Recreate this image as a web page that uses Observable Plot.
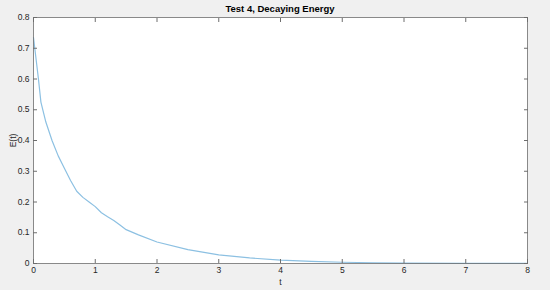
<!DOCTYPE html>
<html>
<head>
<meta charset="utf-8">
<script src="https://cdn.jsdelivr.net/npm/d3@7"></script>
<script src="https://cdn.jsdelivr.net/npm/@observablehq/plot@0.6"></script>
<style>
  html, body { margin: 0; padding: 0; background: #f0f0f0; }
  #chart { width: 550px; height: 290px; position: relative; }
  #title { position: absolute; top: 3px; left: 33px; width: 494px; text-align: center;
           font: bold 9.5px "Liberation Sans", Arial, sans-serif; color: #000; }
</style>
</head>
<body>
<div id="chart"><div id="title">Test 4, Decaying Energy</div></div>
<script>
const title = "Test 4, Decaying Energy";
const xLabel = "t";
const yLabel = "E(t)";
const t =      [0, 0.08, 0.12, 0.2, 0.3, 0.4, 0.5, 0.6, 0.7, 0.8, 0.9, 1.0, 1.1, 1.2, 1.3, 1.4, 1.5, 1.7, 2.0, 2.5, 3.0, 3.5, 4.0, 4.5, 5.0, 5.5, 6.0, 7.0, 8.0];
const energy = [0.735, 0.60, 0.525, 0.46, 0.40, 0.35, 0.31, 0.27, 0.235, 0.215, 0.20, 0.185, 0.165, 0.152, 0.14, 0.125, 0.11, 0.093, 0.07, 0.045, 0.028, 0.018, 0.011, 0.007, 0.004, 0.0025, 0.0015, 0.0006, 0.0002];
const xTicks = [0, 1, 2, 3, 4, 5, 6, 7, 8];
const yTicks = [0, 0.1, 0.2, 0.3, 0.4, 0.5, 0.6, 0.7, 0.8];

const data = t.map((v, i) => ({t: v, e: energy[i]}));
const axisColor = "#262626";
const frameColor = "#6e6e6e";
const font = '"Liberation Sans", Arial, sans-serif';

const chart = Plot.plot({
  width: 550,
  height: 290,
  marginLeft: 33,
  marginRight: 23,
  marginTop: 17,
  marginBottom: 27,
  style: {background: "#f0f0f0", fontFamily: font, fontSize: "8.5px", color: axisColor},
  x: {domain: [0, 8]},
  y: {domain: [0, 0.8]},
  marks: [
    Plot.frame({fill: "white", stroke: "none"}),
    Plot.line(data, {x: "t", y: "e", stroke: "#8cc0e2", strokeWidth: 1.2}),
    Plot.axisX({ticks: xTicks, tickSize: -4, tickPadding: 7.5, stroke: frameColor, tickFormat: d3.format("d"), label: xLabel, labelAnchor: "center", labelArrow: "none", labelOffset: 21, fill: axisColor}),
    Plot.axisX({anchor: "top", ticks: xTicks, tickSize: -4, tickFormat: () => "", label: null, stroke: frameColor}),
    Plot.axisY({ticks: yTicks, tickSize: -4, tickPadding: 8, stroke: frameColor, tickFormat: d => d === 0 ? "0" : d3.format(".1f")(d), label: yLabel, labelAnchor: "center", labelArrow: "none", labelOffset: 24, fill: axisColor}),
    Plot.axisY({anchor: "right", ticks: yTicks, tickSize: -4, tickFormat: () => "", label: null, stroke: frameColor}),
    Plot.frame({stroke: frameColor, strokeWidth: 0.8})
  ]
});
document.getElementById("chart").appendChild(chart);
</script>
</body>
</html>
